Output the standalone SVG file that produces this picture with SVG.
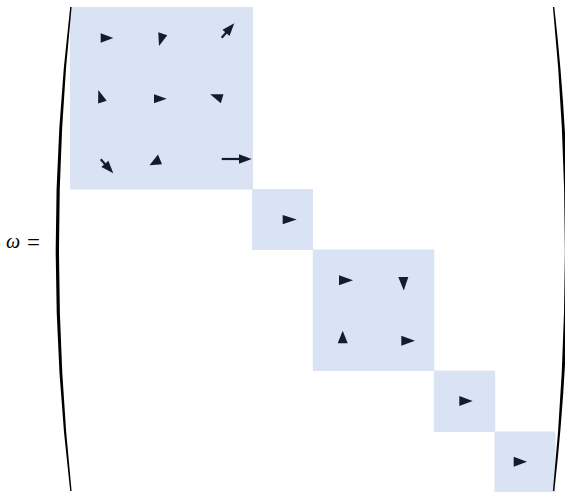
<svg xmlns="http://www.w3.org/2000/svg" width="565" height="492" viewBox="0 0 565 492">
<style>
.blk{fill:#dae3f3;stroke:none}
.hd{fill:#141b2d;stroke:none}
.sh{stroke:#141b2d;stroke-width:2.2;fill:none}
.par{fill:#000;stroke:none}
.lbl{font-family:"Liberation Serif","DejaVu Serif",serif;fill:#000}
</style>
<rect width="565" height="492" fill="#fff"/>
<g id="label">
<text class="lbl" y="248"><tspan x="6" font-style="italic" font-size="20">ω</tspan><tspan x="27" y="250" font-size="23">=</tspan></text>
</g>
<g id="block1">
<rect class="blk" x="70" y="7" width="183" height="182.5"/>
<polygon class="hd" points="100.7,33.3 113.3,38 100.7,42.7"/>
<polygon class="hd" points="158.3,32.3 167.3,35.3 159,45.9"/>
<line class="sh" x1="221.7" y1="37.7" x2="226.5" y2="32.3"/>
<polygon class="hd" points="234.3,23.3 229.5,35.9 222.5,29.7"/>
<polygon class="hd" points="98.3,90 106.7,100.8 98.1,103.6"/>
<polygon class="hd" points="154,94.3 166.7,98.8 154,103.3"/>
<polygon class="hd" points="210.2,94.3 223.5,94.3 220.8,103.3"/>
<line class="sh" x1="100.7" y1="159.3" x2="105.3" y2="164.4"/>
<polygon class="hd" points="113.3,173.3 101.4,167.1 108.4,160.8"/>
<polygon class="hd" points="149.5,165.3 158,154.6 162,164.3"/>
<line class="sh" x1="221.7" y1="159" x2="240" y2="159"/>
<polygon class="hd" points="251.7,159 239,154.3 239,163.7"/>
</g>
<g id="block2">
<rect class="blk" x="252" y="189" width="61" height="61"/>
<polygon class="hd" points="282.7,215 296.7,219.6 282.7,224.3"/>
</g>
<g id="block3">
<rect class="blk" x="312.8" y="249.5" width="121.5" height="121.5"/>
<polygon class="hd" points="339,275.3 353,280.3 339,285.3"/>
<polygon class="hd" points="398.3,277 408.3,277 403.8,290.5"/>
<polygon class="hd" points="342.7,330.7 337.7,343.3 347.7,343.3"/>
<polygon class="hd" points="401.3,335.7 415,340.7 401.3,345.7"/>
</g>
<g id="block4">
<rect class="blk" x="433.8" y="370.6" width="61.4" height="61.4"/>
<polygon class="hd" points="459.3,396 472.7,401 459.3,406"/>
</g>
<g id="block5">
<rect class="blk" x="494.5" y="431.5" width="61" height="61"/>
<polygon class="hd" points="513.7,456.7 527,461.7 513.7,466.7"/>
</g>
<g id="brackets">
<path class="par" d="M70.2,7 Q41.2,249 70.2,491 L71.6,491 Q46.4,249 71.6,7 Z"/>
<path class="par" d="M554.3,7 Q582,249 554.3,491 L552.9,491 Q576.8,249 552.9,7 Z"/>
</g>
<g id="connectors"></g>
</svg>
